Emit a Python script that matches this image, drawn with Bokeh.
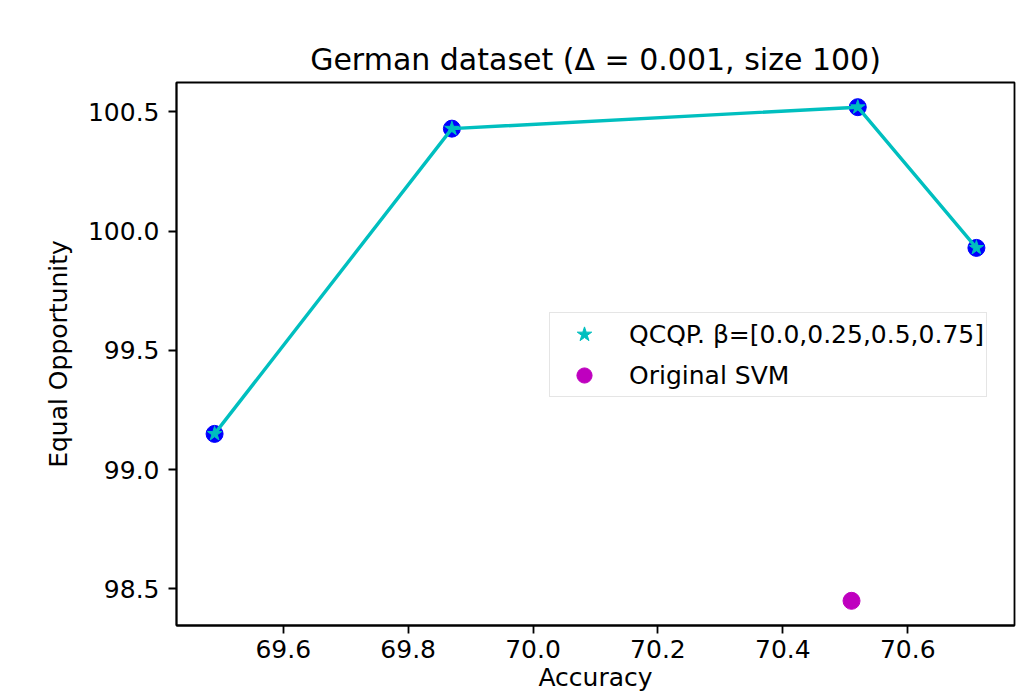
from bokeh.plotting import figure
from bokeh.models import (Range1d, FixedTicker, PrintfTickFormatter, Legend, LegendItem)
from bokeh.embed import file_html
from bokeh.resources import INLINE

# ---- data ----
qcqp_accuracy = [69.49, 69.87, 70.52, 70.71]
qcqp_equal_opp = [99.15, 100.43, 100.52, 99.93]
svm_accuracy = [70.51]
svm_equal_opp = [98.45]
x_ticks = [69.6, 69.8, 70.0, 70.2, 70.4, 70.6]
y_ticks = [98.5, 99.0, 99.5, 100.0, 100.5]
title_text = "German dataset (\u0394 = 0.001, size 100)"
x_label = "Accuracy"
y_label = "Equal Opportunity"
legend_labels = ["QCQP. \u03b2=[0.0,0.25,0.5,0.75]", "Original SVM"]

FONT = "DejaVu Sans"
CYAN = "#00bfbf"
BLUE = "#0000ff"
MAGENTA = "#bf00bf"

p = figure(width=1016, height=694, output_backend="svg", toolbar_location=None,
           x_range=Range1d(69.429, 70.771), y_range=Range1d(98.3465, 100.6235),
           min_border_left=176, min_border_top=82, min_border_right=2, min_border_bottom=67)

p.title.text = title_text
p.title.align = "center"
p.title.text_font = FONT
p.title.text_font_size = "30px"
p.title.text_font_style = "normal"
p.title.text_color = "black"
p.title.standoff = 11

p.xgrid.visible = False
p.ygrid.visible = False
p.outline_line_color = "black"
p.outline_line_width = 1.8
p.outline_line_alpha = 1.0

for ax in (p.xaxis[0], p.yaxis[0]):
    ax.major_label_text_font = FONT
    ax.major_label_text_font_size = "25px"
    ax.major_label_text_color = "black"
    ax.axis_label_text_font = FONT
    ax.axis_label_text_font_size = "25px"
    ax.axis_label_text_font_style = "normal"
    ax.axis_label_text_color = "black"
    ax.major_tick_out = 8
    ax.major_tick_in = 0
    ax.minor_tick_out = 0
    ax.minor_tick_in = 0
    ax.major_tick_line_width = 1.8
    ax.major_tick_line_color = "black"
    ax.axis_line_width = 1.8
    ax.axis_line_color = "black"
    ax.formatter = PrintfTickFormatter(format="%.1f")

p.xaxis[0].ticker = FixedTicker(ticks=x_ticks)
p.xaxis[0].axis_label = x_label
p.xaxis[0].major_label_standoff = 6
p.xaxis[0].axis_label_standoff = 2
p.yaxis[0].ticker = FixedTicker(ticks=y_ticks)
p.yaxis[0].axis_label = y_label
p.yaxis[0].major_label_standoff = 9
p.yaxis[0].axis_label_standoff = 12

# blue circles under the QCQP line
p.scatter(qcqp_accuracy, qcqp_equal_opp, marker="circle", size=17,
          fill_color=BLUE, line_color=BLUE)
p.line(qcqp_accuracy, qcqp_equal_opp, line_color=CYAN, line_width=3.4)
stars = p.scatter(qcqp_accuracy, qcqp_equal_opp, marker="star", size=15,
                  fill_color=CYAN, line_color=CYAN, line_width=1)
svm = p.scatter(svm_accuracy, svm_equal_opp, marker="circle", size=17,
                fill_color=MAGENTA, line_color=MAGENTA)

legend = Legend(items=[LegendItem(label=legend_labels[0], renderers=[stars]),
                       LegendItem(label=legend_labels[1], renderers=[svm])],
                location=(373, 228))
legend.label_text_font = FONT
legend.label_text_font_size = "25px"
legend.label_text_color = "black"
legend.label_height = 30
legend.glyph_height = 38
legend.glyph_width = 64
legend.spacing = 3
legend.padding = 2
legend.margin = 0
legend.label_standoff = 13
legend.border_line_color = "#cccccc"
legend.border_line_width = 1.6
legend.background_fill_alpha = 0.8
p.add_layout(legend, "center")

open("out.html", "w").write(file_html(p, INLINE))
